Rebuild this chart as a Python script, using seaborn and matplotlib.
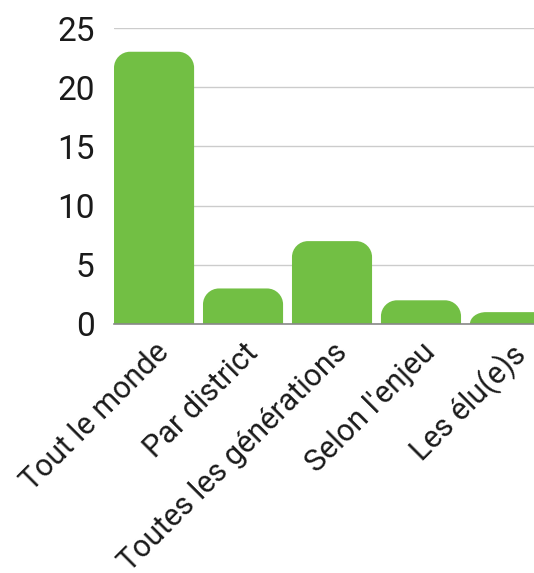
import numpy as np
import pandas as pd
import matplotlib
matplotlib.use("Agg")
import matplotlib.pyplot as plt
from matplotlib.path import Path
from matplotlib.patches import PathPatch
import seaborn as sns

# data
categories = ["Tout le monde", "Par district", "Toutes les générations",
              "Selon l'enjeu", "Les élu(e)s"]
counts = [23, 3, 7, 2, 1]
y_ticks = [0, 5, 10, 15, 20, 25]

BAR_COLOR = "#72bf44"

sns.set_theme(style="white")
plt.rcParams["font.family"] = ["Roboto", "DejaVu Sans"]

df = pd.DataFrame({"category": categories, "count": counts})

fig = plt.figure(figsize=(5.34, 5.73), dpi=100)
ax = fig.add_axes([0.2135, 0.4346, 1.0 - 0.2135, 0.951 - 0.4346])

sns.barplot(data=df, x="category", y="count", color=BAR_COLOR,
            width=0.9, saturation=1, ax=ax, zorder=2)

ax.set_xlim(-0.45, 4.27)
ax.set_ylim(0, 25)
ax.set_yticks(y_ticks)
ax.yaxis.grid(True, color="#cccccc", lw=1, zorder=0)
ax.set_axisbelow(True)


def rounded_top(x0, w, h, rx, ry):
    """Path of a bar with rounded top corners (cubic bezier arcs)."""
    ry = min(ry, h)
    k = 0.5523
    verts = [
        (x0, 0), (x0, h - ry),
        (x0, h - ry + k * ry), (x0 + rx - k * rx, h), (x0 + rx, h),
        (x0 + w - rx, h),
        (x0 + w - rx + k * rx, h), (x0 + w, h - ry + k * ry), (x0 + w, h - ry),
        (x0 + w, 0), (x0, 0),
    ]
    codes = [Path.MOVETO, Path.LINETO,
             Path.CURVE4, Path.CURVE4, Path.CURVE4,
             Path.LINETO,
             Path.CURVE4, Path.CURVE4, Path.CURVE4,
             Path.LINETO, Path.CLOSEPOLY]
    return Path(verts, codes)


# swap the square bars for rounded-top ones
fig.canvas.draw()
bbox = ax.get_window_extent()
px_x = bbox.width / (ax.get_xlim()[1] - ax.get_xlim()[0])
px_y = bbox.height / (ax.get_ylim()[1] - ax.get_ylim()[0])
radius = 16
for p in list(ax.patches):
    x0, w, h = p.get_x(), p.get_width(), p.get_height()
    p.remove()
    ax.add_patch(PathPatch(rounded_top(x0, w, h, radius / px_x, radius / px_y),
                           facecolor=BAR_COLOR, edgecolor="none", zorder=2))

for side in ["left", "right", "top"]:
    ax.spines[side].set_visible(False)
ax.spines["bottom"].set_color("#888888")
ax.spines["bottom"].set_linewidth(1.2)
ax.spines["bottom"].set_zorder(3)

ax.set_xlabel("")
ax.set_ylabel("")
ax.tick_params(axis="y", length=0, pad=14, labelsize=24, labelcolor="#1a1a1a")
ax.tick_params(axis="x", length=0, pad=10, labelsize=22, labelcolor="#1a1a1a")
for lab in ax.get_xticklabels():
    lab.set_rotation(45)
    lab.set_ha("right")
    lab.set_rotation_mode("anchor")

fig.savefig("out.png", dpi=100)
